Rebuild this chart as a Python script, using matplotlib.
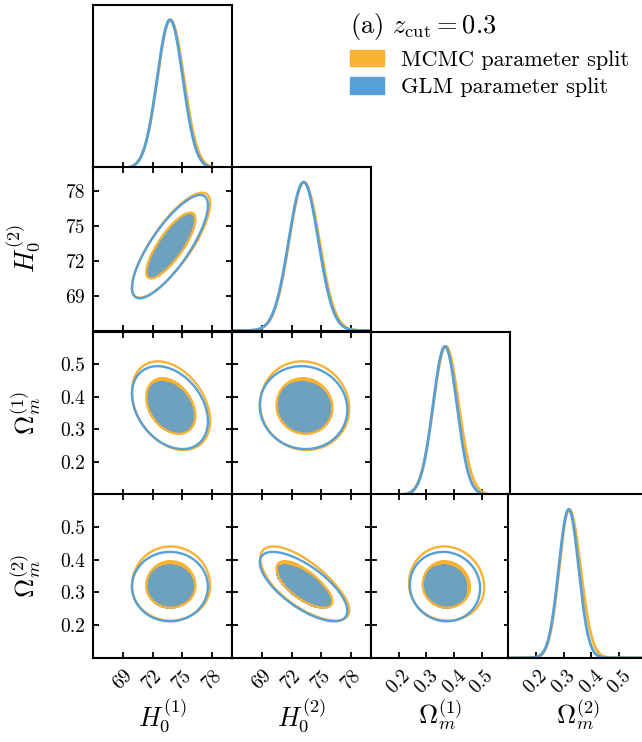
import numpy as np
import matplotlib
matplotlib.use("Agg")
import matplotlib.pyplot as plt
from matplotlib.patches import Patch

# Computer Modern look
plt.rcParams["font.family"] = "serif"
plt.rcParams["font.serif"] = ["cmr10"]
plt.rcParams["mathtext.fontset"] = "cm"
plt.rcParams["axes.formatter.use_mathtext"] = True
plt.rcParams["axes.unicode_minus"] = False
plt.rcParams["axes.linewidth"] = 1.5
plt.rcParams["xtick.direction"] = "in"
plt.rcParams["ytick.direction"] = "in"
plt.rcParams["xtick.major.size"] = 4.5
plt.rcParams["ytick.major.size"] = 4.5
plt.rcParams["xtick.major.width"] = 1.3
plt.rcParams["ytick.major.width"] = 1.3

# --- data ---
param_labels = [r"$H_0^{(1)}$", r"$H_0^{(2)}$", r"$\Omega_m^{(1)}$", r"$\Omega_m^{(2)}$"]
param_limits = [(66, 80), (66, 80), (0.1, 0.6), (0.1, 0.6)]
h0_ticks = [69, 72, 75, 78]
h0_ticklabels = ["69", "72", "75", "78"]
om_ticks = [0.2, 0.3, 0.4, 0.5]
om_ticklabels = ["0.2", "0.3", "0.4", "0.5"]

# MCMC parameter split (orange): peak, width below / above peak
mcmc_mean = [73.8, 73.25, 0.37, 0.32]
mcmc_sig_lo = [1.32, 1.50, 0.045, 0.036]
mcmc_sig_hi = [1.36, 1.55, 0.047, 0.041]
# GLM parameter split (blue)
glm_mean = [73.75, 73.2, 0.367, 0.318]
glm_sig_lo = [1.30, 1.50, 0.043, 0.036]
glm_sig_hi = [1.30, 1.50, 0.043, 0.036]
# pairwise correlations (lower triangle used)
corr = [
    [1.0, 0.8, -0.33, 0.0],
    [0.8, 1.0, -0.05, -0.7],
    [-0.33, -0.05, 1.0, -0.05],
    [0.0, -0.7, -0.05, 1.0],
]

c_mcmc = "#F8B234"
c_glm = "#569FD7"
radii = [1.85, 2.95]  # inner (filled) and outer contour

n = 4
col_left = [93.3, 232.3, 371.0, 508.3]
row_top = [5.0, 167.3, 331.5, 494.5]
pw, ph = 138.5, 163.3
W, H = 642, 742

fig = plt.figure(figsize=(W / 100, H / 100), dpi=100)


def stdz(x, i, mean, lo, hi):
    d = x - mean[i]
    return np.where(d < 0, d / lo[i], d / hi[i])


for i in range(n):
    for j in range(i + 1):
        ax = fig.add_axes([col_left[j] / W, 1 - (row_top[i] + ph) / H, pw / W, ph / H])
        ax.set_xlim(param_limits[j])
        xs = np.linspace(*param_limits[j], 400)
        if i == j:
            for mean, lo, hi, c in [(mcmc_mean, mcmc_sig_lo, mcmc_sig_hi, c_mcmc),
                                    (glm_mean, glm_sig_lo, glm_sig_hi, c_glm)]:
                ax.plot(xs, np.exp(-0.5 * stdz(xs, j, mean, lo, hi) ** 2), color=c, lw=2.0)
            ax.set_ylim(0, 1.1)
            ax.set_yticks([])
            ax.tick_params(axis="x", top=False, bottom=True)
        else:
            ax.set_ylim(param_limits[i])
            ys = np.linspace(*param_limits[i], 400)
            X, Y = np.meshgrid(xs, ys)
            rho = corr[i][j]
            for k, (mean, lo, hi, c) in enumerate([(mcmc_mean, mcmc_sig_lo, mcmc_sig_hi, c_mcmc),
                                                   (glm_mean, glm_sig_lo, glm_sig_hi, c_glm)]):
                zx = stdz(X, j, mean, lo, hi)
                zy = stdz(Y, i, mean, lo, hi)
                r = np.sqrt((zx ** 2 - 2 * rho * zx * zy + zy ** 2) / (1 - rho ** 2))
                if k == 0:
                    ax.contourf(X, Y, r, levels=[0, radii[0]], colors=[c])
                    ax.contour(X, Y, r, levels=radii, colors=[c], linewidths=1.7)
                else:
                    ax.contourf(X, Y, r, levels=[0, radii[0]], colors=[c], alpha=0.85)
                    ax.contour(X, Y, r, levels=[radii[1]], colors=[c], linewidths=1.7)
            ax.tick_params(top=True, right=True)
            if i >= 2:
                ax.set_yticks(om_ticks)
                ax.set_yticklabels(om_ticklabels if j == 0 else [])
            else:
                ax.set_yticks(h0_ticks)
                ax.set_yticklabels(h0_ticklabels if j == 0 else [])
            if j == 0:
                ax.set_ylabel(param_labels[i], fontsize=19)
                ax.yaxis.set_label_coords(-0.36, 0.5)
        if j >= 2:
            ax.set_xticks(om_ticks)
            tl = om_ticklabels
        else:
            ax.set_xticks(h0_ticks)
            tl = h0_ticklabels
        if i == n - 1:
            ax.set_xticklabels(tl, rotation=45, ha="center")
            ax.set_xlabel(param_labels[j], fontsize=19)
            ax.xaxis.set_label_coords(0.5, -0.24)
        else:
            ax.set_xticklabels([])
        ax.tick_params(labelsize=14, pad=6)

handles = [Patch(color=c_mcmc), Patch(color=c_glm)]
leg = fig.legend(handles, ["MCMC parameter split", "GLM parameter split"],
                 loc="upper left", bbox_to_anchor=(330 / W, 1 + 9 / H),
                 frameon=False, fontsize=16, title=r"(a) $z_{\rm cut} = 0.3$",
                 title_fontsize=19, alignment="left", handlelength=1.55,
                 handleheight=0.75, handletextpad=0.75, labelspacing=0.35)

fig.savefig("out.png", dpi=100)
